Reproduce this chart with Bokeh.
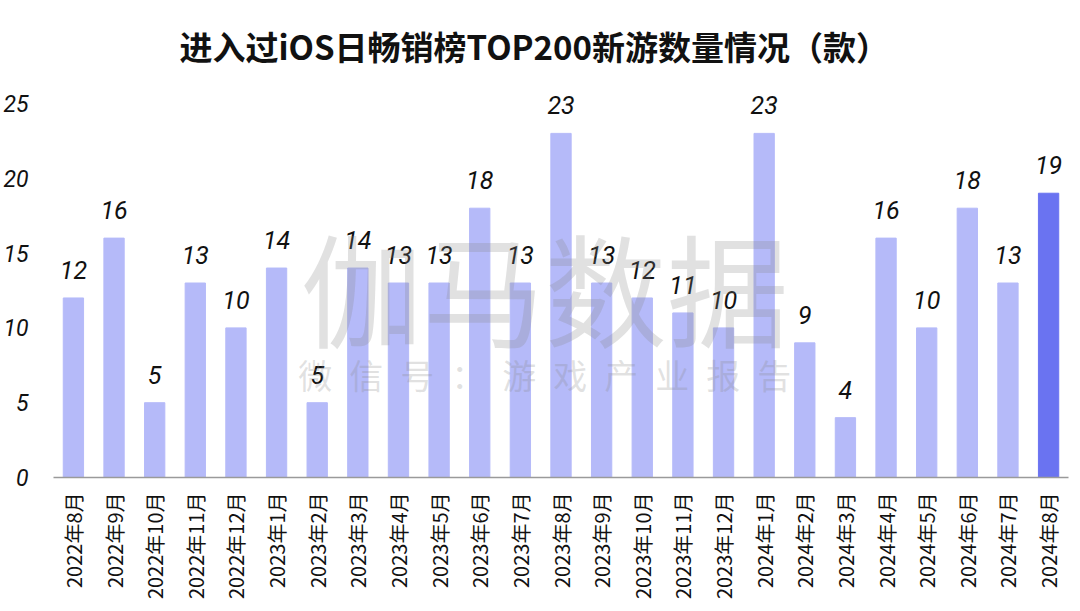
from bokeh.plotting import figure
from bokeh.models import ColumnDataSource, FixedTicker, Label
from bokeh.embed import file_html
from bokeh.resources import INLINE
from bokeh.core.properties import value
import math

categories = ["2022年8月", "2022年9月", "2022年10月", "2022年11月", "2022年12月",
              "2023年1月", "2023年2月", "2023年3月", "2023年4月", "2023年5月",
              "2023年6月", "2023年7月", "2023年8月", "2023年9月", "2023年10月",
              "2023年11月", "2023年12月", "2024年1月", "2024年2月", "2024年3月",
              "2024年4月", "2024年5月", "2024年6月", "2024年7月", "2024年8月"]
values = [12, 16, 5, 13, 10, 14, 5, 14, 13, 13, 18, 13, 23, 13, 12, 11, 10, 23, 9, 4, 16, 10, 18, 13, 19]
y_ticks = [0, 5, 10, 15, 20, 25]
title_text = "进入过iOS日畅销榜TOP200新游数量情况（款）"

n = len(values)
xs = list(range(n))
colors = ["#b5baf9"] * (n - 1) + ["#6a73f1"]
src = ColumnDataSource(dict(x=xs, top=values, color=colors, label=[str(v) for v in values]))

p = figure(width=1076, height=603, output_backend="svg", toolbar_location=None,
           x_range=(-0.49, n - 1 + 0.49), y_range=(0, 26),
           min_border_left=52, min_border_right=8, min_border_top=85, min_border_bottom=126,
           title=title_text)
p.title.align = "left"
p.title.offset = 126
p.title.standoff = 38
p.title.text_font = "Noto Sans CJK SC"
p.title.text_font_size = "33px"
p.title.text_font_style = "bold"
p.title.text_color = "#111111"
p.outline_line_color = None
p.grid.visible = False

p.vbar(x="x", top="top", width=0.5, color="color", source=src)

p.text(x="x", y="top", text="label", source=src, text_align="center", text_baseline="alphabetic",
       y_offset=-28, text_font=value("Roboto"), text_font_style="italic",
       text_font_size="25px", text_color="#111111")

# watermark
p.add_layout(Label(x=11.6, y=12.9, text="伽马数据", text_align="center", text_baseline="middle",
                   text_font="Noto Sans CJK SC", text_font_size="122px", text_font_style="normal",
                   text_color="#888888", text_alpha=0.25))
p.add_layout(Label(x=11.6, y=6.9, text="\u2002".join("微信号：游戏产业报告"),
                   text_align="center", text_baseline="middle", text_font="Noto Sans CJK SC",
                   text_font_size="34px", text_color="#888888", text_alpha=0.25))

p.xaxis.ticker = FixedTicker(ticks=xs)
p.xaxis.major_label_overrides = {i: c for i, c in enumerate(categories)}
p.xaxis.major_label_orientation = math.pi / 2
p.xaxis.major_label_text_font = "Noto Sans CJK SC"
p.xaxis.major_label_text_font_size = "20px"
p.xaxis.major_label_text_color = "#111111"
p.xaxis.major_tick_line_color = None
p.xaxis.minor_tick_line_color = None
p.xaxis.axis_line_color = "#9a9a9a"
p.xaxis.axis_line_width = 1.5
p.xaxis.major_label_standoff = 9

p.yaxis.ticker = FixedTicker(ticks=y_ticks)
p.yaxis.axis_line_color = None
p.yaxis.major_tick_line_color = None
p.yaxis.minor_tick_line_color = None
p.yaxis.major_label_text_font = "Roboto"
p.yaxis.major_label_text_font_style = "italic"
p.yaxis.major_label_text_font_size = "23px"
p.yaxis.major_label_text_color = "#111111"
p.yaxis.major_label_standoff = 19

open("out.html", "w").write(file_html(p, INLINE))
